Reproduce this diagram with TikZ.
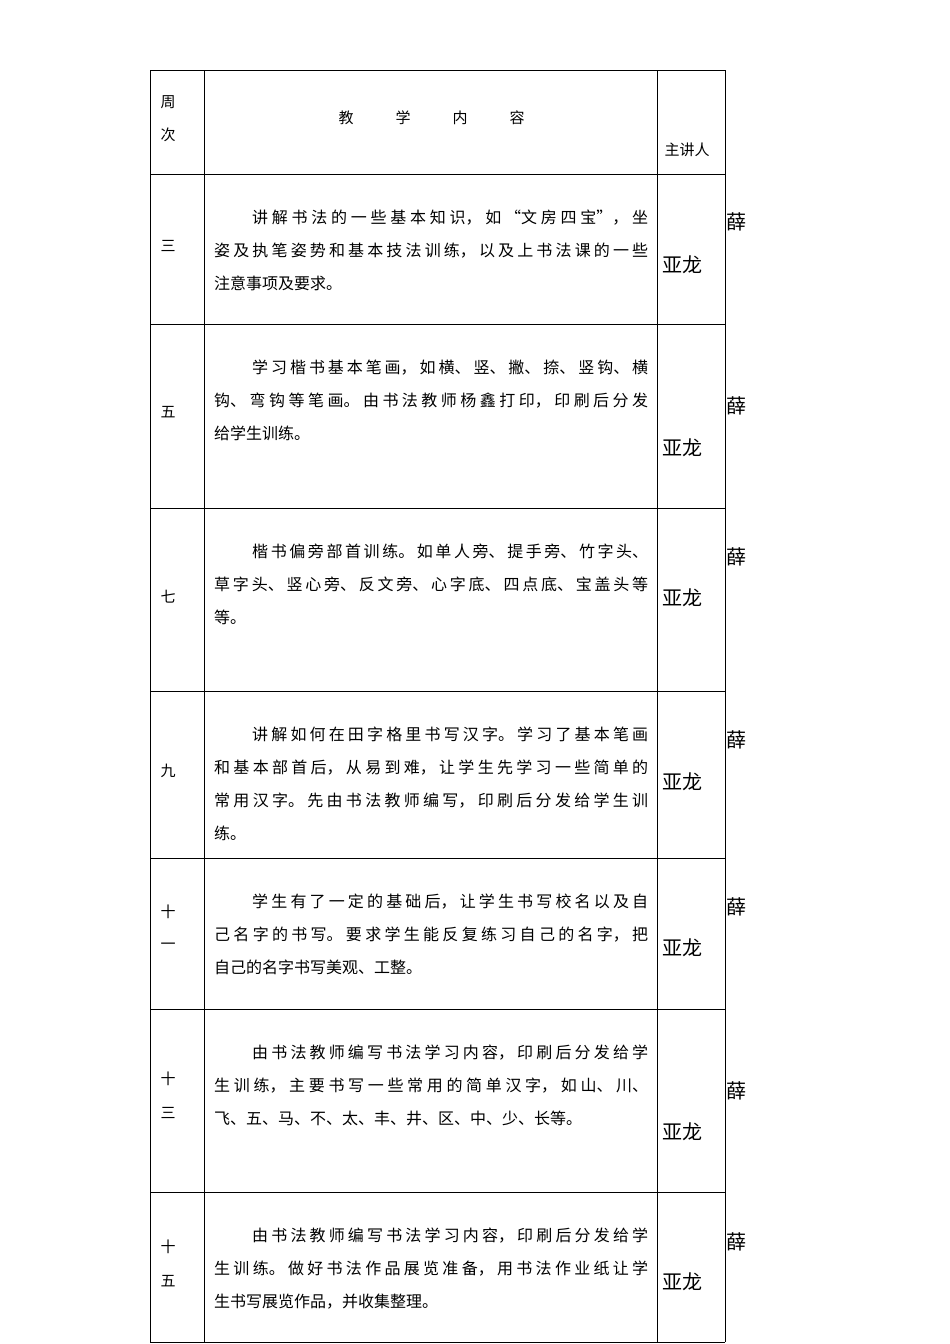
\documentclass[tikz,border=0pt]{standalone}
\usepackage{fontspec}
\setmainfont{Noto Sans CJK SC}
\XeTeXlinebreaklocale "zh"
\XeTeXlinebreakskip=0pt plus 6pt
\tikzset{
  grid line/.style={line width=0.6pt},
  weeklbl/.style={font=\fontsize{15}{17}\selectfont, inner sep=0pt},
  bodytxt/.style={font=\fontsize{16}{33}\selectfont, text width=434pt, align=justify, anchor=north west, inner sep=0pt},
  namelbl/.style={font=\fontsize{20}{22}\selectfont, inner sep=0pt},
}
\newcommand\Ind{\hspace*{38pt}}
\begin{document}
\begin{tikzpicture}[x=1pt,y=-1pt]
  \useasboundingbox (0,0) rectangle (950,1344);
  % table frame
  \foreach \xx in {150,204,657,725} \draw[grid line] (\xx,70) -- (\xx,1342);
  \foreach \yy in {70,174,324,508,691,858,1009,1192,1342} \draw[grid line] (150,\yy) -- (725,\yy);

  % header
  \node[weeklbl] (h1a) at (168,102) {周};
  \node[weeklbl] (h1b) at (168,135) {次};
  \foreach \c/\xx in {教/346,学/403,内/460,容/517} \node[weeklbl] at (\xx,118) {\c};
  \node[weeklbl] (h3) at (687,150) {主讲人};

  % week numbers
  \node[weeklbl] (w3) at (168,246) {三};
  \node[weeklbl] (w5) at (168,412) {五};
  \node[weeklbl] (w7) at (168,597) {七};
  \node[weeklbl] (w9) at (168,771) {九};
  \node[weeklbl] (w11a) at (168,912) {十};
  \node[weeklbl] (w11b) at (168,946) {一};
  \node[weeklbl] (w13a) at (168,1079) {十};
  \node[weeklbl] (w13b) at (168,1113) {三};
  \node[weeklbl] (w15a) at (168,1247) {十};
  \node[weeklbl] (w15b) at (168,1281) {五};

  % contents
  \node[bodytxt] (c3) at (214,210) {\Ind 讲解书法的一些基本知识，如“文房四宝”，坐\linebreak 姿及执笔姿势和基本技法训练，以及上书法课的一些\linebreak 注意事项及要求。};
  \node[bodytxt] (c5) at (214,360) {\Ind 学习楷书基本笔画，如横、竖、撇、捺、竖钩、横\linebreak 钩、弯钩等笔画。由书法教师杨鑫打印，印刷后分发\linebreak 给学生训练。};
  \node[bodytxt] (c7) at (214,544) {\Ind 楷书偏旁部首训练。如单人旁、提手旁、竹字头、\linebreak 草字头、竖心旁、反文旁、心字底、四点底、宝盖头等\linebreak 等。};
  \node[bodytxt] (c9) at (214,727) {\Ind 讲解如何在田字格里书写汉字。学习了基本笔画\linebreak 和基本部首后，从易到难，让学生先学习一些简单的\linebreak 常用汉字。先由书法教师编写，印刷后分发给学生训\linebreak 练。};
  \node[bodytxt] (c11) at (214,894) {\Ind 学生有了一定的基础后，让学生书写校名以及自\linebreak 己名字的书写。要求学生能反复练习自己的名字，把\linebreak 自己的名字书写美观、工整。};
  \node[bodytxt] (c13) at (214,1045) {\Ind 由书法教师编写书法学习内容，印刷后分发给学\linebreak 生训练，主要书写一些常用的简单汉字，如山、川、\linebreak 飞、五、马、不、太、丰、井、区、中、少、长等。};
  \node[bodytxt] (c15) at (214,1228) {\Ind 由书法教师编写书法学习内容，印刷后分发给学\linebreak 生训练。做好书法作品展览准备，用书法作业纸让学\linebreak 生书写展览作品，并收集整理。};

  % speakers
  \foreach \ya/\yb [count=\i] in {222/265,406/448,557/598,740/782,907/948,1091/1132,1242/1282}{
    \node[namelbl] (s\i a) at (736,\ya) {薛};
    \node[namelbl] (s\i b) at (682,\yb) {亚龙};
  }
\end{tikzpicture}
\end{document}
